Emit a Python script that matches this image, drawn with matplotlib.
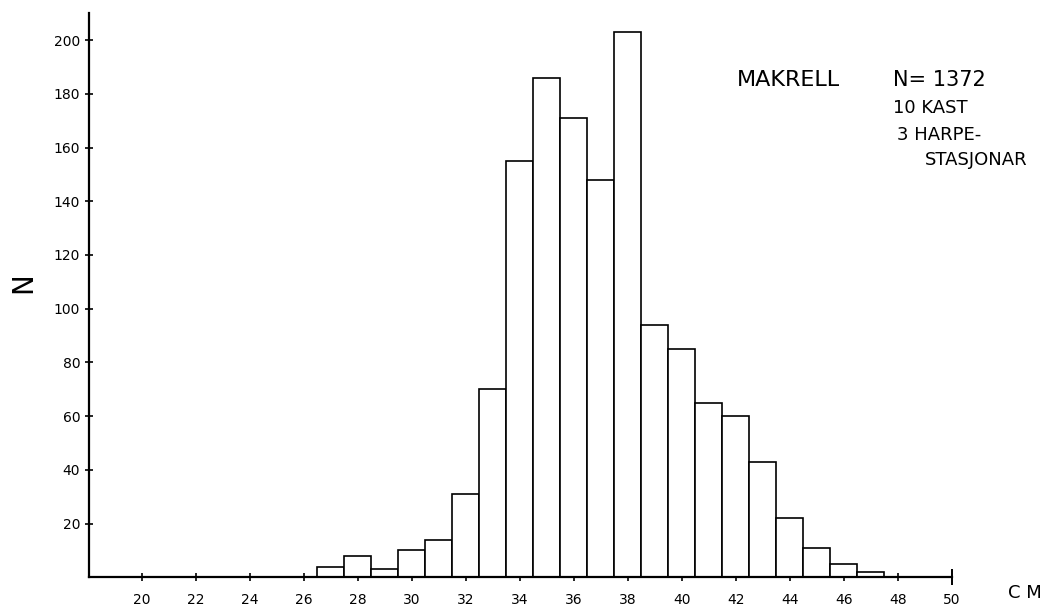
"""Length distribution of mackerel (MAKRELL), redrawn from a hand-drawn histogram."""

import matplotlib
matplotlib.use("Agg")
import matplotlib.pyplot as plt

# Length classes (cm, bin centres) and number of fish in each
length_cm = [27, 28, 29, 30, 31, 32, 33, 34, 35, 36, 37, 38,
             39, 40, 41, 42, 43, 44, 45, 46, 47]
counts = [4, 8, 3, 10, 14, 31, 70, 155, 186, 171, 148, 203,
          94, 85, 65, 60, 43, 22, 11, 5, 2]

x_ticks = [20, 22, 24, 26, 28, 30, 32, 34, 36, 38, 40, 42, 44, 46, 48]
x_end_tick = [50]
y_ticks = [20, 40, 60, 80, 100, 120, 140, 160, 180, 200]

notes = ["MAKRELL", "N= 1372", "10 KAST", "3 HARPE-", "STASJONAR"]

W, H = 1051, 607


def px(x, y):
    """Pixel position (from top-left) to figure fraction."""
    return x / W, 1 - y / H


def main():
    fig = plt.figure(figsize=(W / 100, H / 100), dpi=100)
    # axes box: left spine at x=89, baseline at y=577, top at y=13, x=50 at 952
    ax = fig.add_axes([89.3 / W, (H - 577.3) / H, (951.7 - 89.3) / W, (577.3 - 13.2) / H])

    ax.bar(length_cm, counts, width=1.0, color="white", edgecolor="black",
           linewidth=1.2, zorder=2)

    ax.set_xlim(18.06, 50)
    ax.set_ylim(0, 210)

    for side in ("top", "right"):
        ax.spines[side].set_visible(False)
    for side in ("left", "bottom"):
        ax.spines[side].set_linewidth(1.6)

    ax.set_xticks(x_ticks)
    ax.set_xticklabels([str(t) for t in x_ticks])
    ax.set_xticks(x_end_tick, minor=True)
    ax.set_xticklabels([str(t) for t in x_end_tick], minor=True)
    ax.set_yticks(y_ticks)
    ax.set_yticklabels([str(t) for t in y_ticks])

    ax.tick_params(axis="both", which="major", direction="inout", length=6,
                   width=1.2, labelsize=10)
    ax.tick_params(axis="x", which="major", pad=8)
    ax.tick_params(axis="x", which="minor", direction="inout", length=11,
                   width=1.4, labelsize=10, pad=5.5)
    ax.tick_params(axis="y", which="major", pad=3.5)

    # rotated N (reads like a Z), right edge at about x=37 px
    ax.set_ylabel("N", fontsize=20, labelpad=0)
    ax.yaxis.set_label_coords(-0.0606, 0.522)

    # hand-written notes in the upper right
    fig.text(*px(737, 80), notes[0], fontsize=16, va="center", ha="left")
    fig.text(*px(893, 80), notes[1], fontsize=15, va="center", ha="left")
    fig.text(*px(893, 108), notes[2], fontsize=13, va="center", ha="left")
    fig.text(*px(897, 135), notes[3], fontsize=13, va="center", ha="left")
    fig.text(*px(925, 160), notes[4], fontsize=13, va="center", ha="left")

    fig.text(*px(1008, 593), "C M", fontsize=13, va="center", ha="left")

    fig.savefig("out.png", dpi=100)
    plt.close(fig)


if __name__ == "__main__":
    main()
